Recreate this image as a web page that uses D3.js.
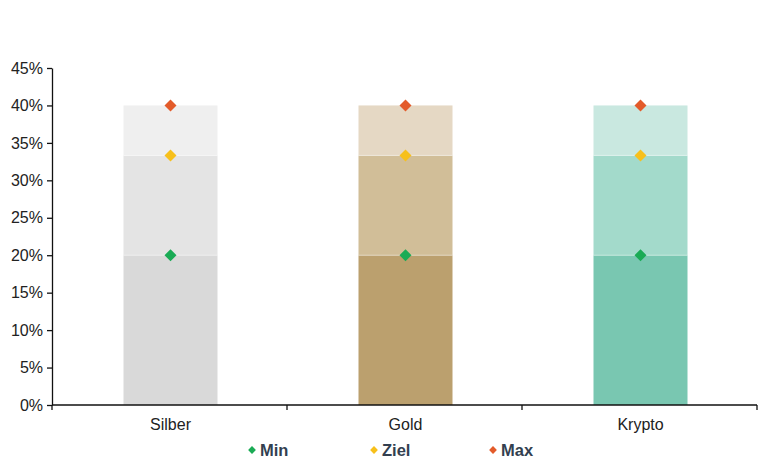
<!DOCTYPE html>
<html><head><meta charset="utf-8">
<script src="https://cdn.jsdelivr.net/npm/d3@7"></script>
<style>body{margin:0;background:#fff;} text{font-family:"Liberation Sans",Arial,sans-serif;}</style>
</head><body><svg id="c" width="768" height="465"></svg>
<script>
const categories = ["Silber","Gold","Krypto"];
const minVals = [0.20,0.20,0.20];
const zielVals = [0.3333,0.3333,0.3333];
const maxVals = [0.40,0.40,0.40];
const yTicks = [0,0.05,0.10,0.15,0.20,0.25,0.30,0.35,0.40,0.45];
const seriesNames = ["Min","Ziel","Max"];
const barColors = [["#d9d9d9","#e4e4e4","#efefef"],["#bba06e","#d1be98","#e5d8c4"],["#79c7b1","#a3dacb","#c9e8e0"]];
const markerColors = ["#1aab55","#f7c01b","#e35b2a"];

const svg = d3.select("#c");
const m = {l:52, r:11, t:68, b:60};
const W = 768, H = 465;
const x = d3.scaleBand().domain(categories).range([m.l, W-m.r]).paddingInner(0).paddingOuter(0);
const y = d3.scaleLinear().domain([0,0.45]).range([H-m.b, m.t]);
const bw = x.bandwidth()*0.4;

categories.forEach((c,i)=>{
  const segs = [[0,minVals[i]],[minVals[i],zielVals[i]],[zielVals[i],maxVals[i]]];
  segs.forEach((s,j)=>{
    svg.append("rect").attr("x", x(c)+x.bandwidth()/2-bw/2+1).attr("width", bw)
      .attr("y", y(s[1])).attr("height", y(s[0])-y(s[1])).attr("fill", barColors[i][j]);
  });
  segs.slice(1).forEach(s=>{
    svg.append("line").attr("x1", x(c)+x.bandwidth()/2-bw/2+1).attr("x2", x(c)+x.bandwidth()/2+bw/2+1)
      .attr("y1", y(s[0])).attr("y2", y(s[0])).attr("stroke","#fff").attr("stroke-opacity",0.4).attr("stroke-width",1);
  });
});

function drawDiamond(cx, cy, col, s){
  svg.append("rect").attr("x",-s/2).attr("y",-s/2).attr("width",s).attr("height",s)
    .attr("fill",col).attr("transform",`translate(${cx},${cy}) rotate(45)`);
}
[minVals,zielVals,maxVals].forEach((vals,k)=>{
  categories.forEach((c,i)=>{
    drawDiamond(x(c)+x.bandwidth()/2+1, y(vals[i]), markerColors[k], 8.5);
  });
});

// axes
const ya = d3.axisLeft(y).tickValues(yTicks).tickFormat(d=>Math.round(d*100)+"%").tickSize(5).tickSizeOuter(0);
const gy = svg.append("g").attr("transform",`translate(${m.l},0)`).call(ya);
gy.select(".domain").attr("stroke","#111").attr("stroke-width",1.3);
gy.selectAll(".tick line").attr("stroke","#111").attr("stroke-width",1.3);
gy.selectAll("text").attr("font-size",16).attr("fill","#222").attr("dx",-1).attr("font-family","Liberation Sans, Arial, sans-serif");

const gx = svg.append("g").attr("transform",`translate(0,${y(0)})`);
gx.append("line").attr("x1",m.l).attr("x2",W-m.r).attr("y1",0).attr("y2",0).attr("stroke","#111").attr("stroke-width",1.3);
const bounds = categories.map(c=>x(c)).concat([x(categories[categories.length-1])+x.bandwidth()]);
bounds.forEach(b=>{
  gx.append("line").attr("x1",b).attr("x2",b).attr("y1",0).attr("y2",5).attr("stroke","#111").attr("stroke-width",1.3);
});
categories.forEach(c=>{
  gx.append("text").attr("x",x(c)+x.bandwidth()/2+1).attr("y",25).attr("text-anchor","middle")
    .attr("font-size",16).attr("fill","#222").text(c);
});

// legend
const legX = [252, 374, 493];
seriesNames.forEach((n,k)=>{
  drawDiamond(legX[k], 450, markerColors[k], 5.5);
  svg.append("text").attr("x",legX[k]+8).attr("y",456).attr("font-size",16.5).attr("font-weight","bold")
    .attr("fill","#333f50").text(n);
});
</script></body></html>
